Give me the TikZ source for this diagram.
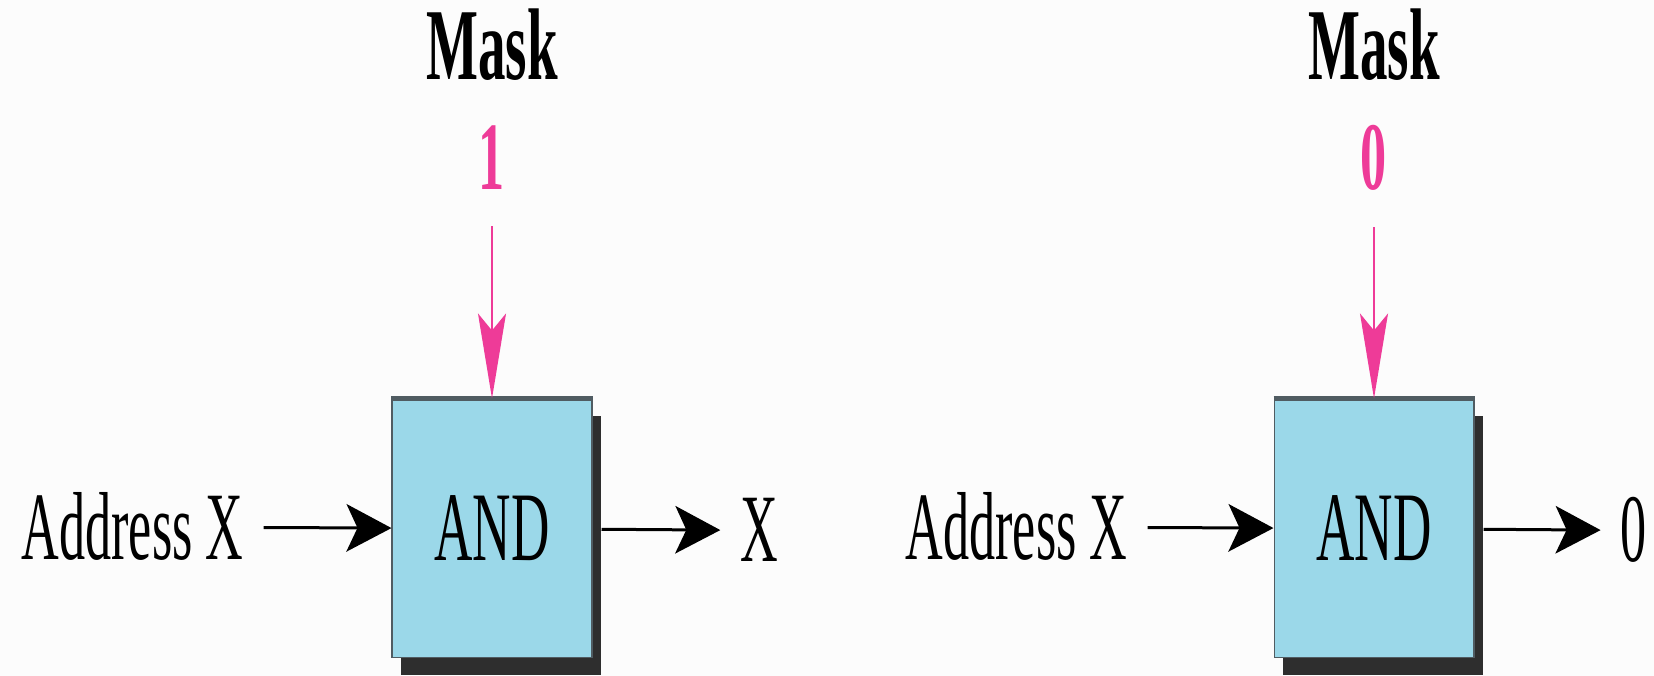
\documentclass[tikz,border=0pt]{standalone}
\usepackage{fontspec}
\setmainfont[FakeStretch=0.54]{Liberation Serif}
\usetikzlibrary{arrows.meta,shadows}
\definecolor{maskpink}{RGB}{238,59,152}
\definecolor{gatecyan}{RGB}{155,216,233}
\definecolor{gateshadow}{RGB}{46,46,46}
\definecolor{gateedge}{RGB}{80,92,98}
\definecolor{paper}{RGB}{252,252,252}
\begin{document}
\begin{tikzpicture}[x=0.02cm,y=0.02cm] % 1 unit = 1 px
\tikzstyle{gate} = [draw=gateedge, line width=0.6pt, fill=gatecyan, minimum width=4cm, minimum height=5.18cm, inner sep=0pt, font=\fontsize{56}{60}\selectfont, drop shadow={shadow xshift=0.18cm, shadow yshift=-0.34cm, fill=gateshadow, opacity=1}] % AND box
\tikzstyle{topedge} = [draw=gateedge, line width=0.1cm] % dark top rim of the box
\tikzstyle{lbl} = [inner xsep=0.4cm, inner ysep=0pt, anchor=base, font=\fontsize{55}{60}\selectfont] % black labels
\tikzstyle{masktitle} = [inner sep=0pt, anchor=base, font=\bfseries\fontsize{58}{62}\selectfont]
\tikzstyle{maskbit} = [text=maskpink, inner sep=0pt, anchor=base, font=\bfseries\fontsize{55}{60}\selectfont]
\tikzstyle{wire} = [line width=0.06cm, -{Stealth[length=0.9cm, width=0.95cm, inset=0.22cm]}]
\tikzstyle{maskwire} = [maskpink, line width=0.04cm, -{Stealth[length=1.7cm, width=0.56cm, inset=0.34cm]}, shorten <=0.72cm]

\fill[paper] (0,0) rectangle (1654,676);
\useasboundingbox (0,0) rectangle (1654,676);

% mask bit 1
\node[gate] (andA) at (492,147.5) {AND};
\node[masktitle] (maskA) at (492,596) {Mask};
\node[maskbit] (bitA) at (492,486) {1};
\node[lbl] (addrA) at (132.5,116) {Address X};
\node[lbl] (outA) at (759.5,114) {X};
\draw[topedge] (andA.north west) -- (andA.north east);
\draw[maskwire] (bitA) -- (andA);
\draw[wire] (addrA) -- (andA);
\draw[wire, shorten <=0.18cm] (andA) -- (outA);

% mask bit 0
\node[gate] (andB) at (1374,147.5) {AND};
\node[masktitle] (maskB) at (1374,596) {Mask};
\node[maskbit] (bitB) at (1374,486) {0};
\node[lbl] (addrB) at (1016.5,116) {Address X};
\node[lbl] (outB) at (1634,114) {0};
\draw[topedge] (andB.north west) -- (andB.north east);
\draw[maskwire] (bitB) -- (andB);
\draw[wire] (addrB) -- (andB);
\draw[wire, shorten <=0.18cm] (andB) -- (outB);
\end{tikzpicture}
\end{document}
